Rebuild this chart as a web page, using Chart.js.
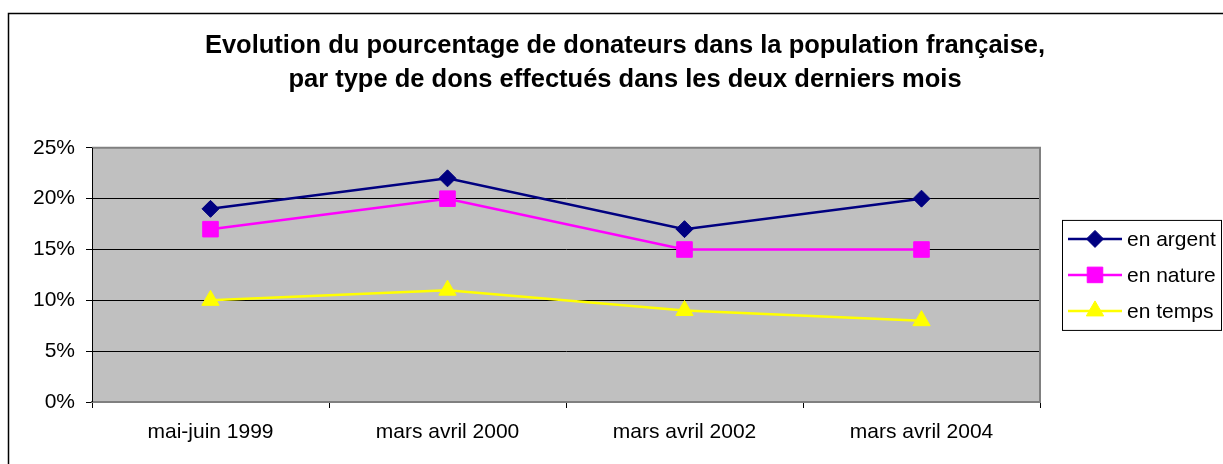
<!DOCTYPE html>
<html>
<head>
<meta charset="utf-8">
<script src="https://cdn.jsdelivr.net/npm/chart.js@4"></script>
<style>
  body { margin: 0; background: #fff; }
</style>
</head>
<body>
<canvas id="graph" width="1223" height="464"></canvas>
<script>
// === DATA === //

const periods = ["mai-juin 1999", "mars avril 2000", "mars avril 2002", "mars avril 2004"]
const enArgent = [19, 22, 17, 20]
const enNature = [17, 20, 15, 15]
const enTemps = [10, 11, 9, 8]
const titleLines = [
  "Evolution du pourcentage de donateurs dans la population française,",
  "par type de dons effectués dans les deux derniers mois"
]

const fontFamily = 'Arial, "Liberation Sans", sans-serif'

// === PLUGINS === //

// grey plot area + outer frame
const plotBackground = {
  id: 'plotBackground',
  beforeDraw(chart) {
    const { ctx, chartArea: a } = chart
    ctx.save()
    ctx.fillStyle = '#ffffff'
    ctx.fillRect(0, 0, chart.width, chart.height)
    ctx.strokeStyle = '#000000'
    ctx.lineWidth = 1.5
    ctx.strokeRect(8.5, 13.5, chart.width + 20, chart.height + 20)
    ctx.fillStyle = '#c0c0c0'
    ctx.fillRect(a.left, a.top, a.right - a.left, a.bottom - a.top)
    ctx.restore()
  },
  beforeDatasetsDraw(chart) {
    const { ctx, chartArea: a } = chart
    ctx.save()
    ctx.strokeStyle = '#808080'
    ctx.lineWidth = 2
    ctx.beginPath()
    ctx.moveTo(a.left, a.top)
    ctx.lineTo(a.right, a.top)
    ctx.lineTo(a.right, a.bottom)
    ctx.lineTo(a.left, a.bottom)
    ctx.stroke()
    ctx.strokeStyle = '#000000'
    ctx.lineWidth = 1
    ctx.beginPath()
    ctx.moveTo(a.left + 0.5, a.top)
    ctx.lineTo(a.left + 0.5, a.bottom)
    ctx.stroke()
    ctx.restore()
  }
}

// legend with line + marker, boxed, right of plot
const boxedLegend = {
  id: 'boxedLegend',
  afterDraw(chart) {
    const { ctx, chartArea: a } = chart
    const left = a.right + 22
    const right = chart.width - 2
    const mid = (a.top + a.bottom) / 2
    const rowH = 36
    const sets = chart.data.datasets
    const top = mid - rowH * sets.length / 2 - 1
    ctx.save()
    ctx.strokeStyle = '#000000'
    ctx.lineWidth = 1
    ctx.strokeRect(left + 0.5, top + 0.5, right - left, rowH * sets.length + 2)
    ctx.font = '21px ' + fontFamily
    ctx.textBaseline = 'middle'
    ctx.textAlign = 'left'
    sets.forEach((ds, i) => {
      const y = mid + (i - (sets.length - 1) / 2) * rowH
      ctx.strokeStyle = ds.borderColor
      ctx.lineWidth = 2.5
      ctx.beginPath()
      ctx.moveTo(left + 6, y)
      ctx.lineTo(left + 60, y)
      ctx.stroke()
      ctx.fillStyle = ds.borderColor
      ctx.lineWidth = 1
      Chart.helpers.drawPoint(ctx, {
        pointStyle: ds.pointStyle,
        radius: ds.pointRadius,
        borderWidth: 1
      }, left + 33, y)
      ctx.fillStyle = '#000000'
      ctx.fillText(ds.label, left + 65, y + 1)
    })
    ctx.restore()
  }
}

// === CHART === //

function makeDataset(label, values, color, style, radius) {
  return {
    label: label,
    data: values,
    borderColor: color,
    backgroundColor: color,
    pointBackgroundColor: color,
    pointBorderColor: color,
    borderWidth: 2.5,
    pointStyle: style,
    pointRadius: radius,
    pointHoverRadius: radius,
    pointBorderWidth: 1,
    tension: 0
  }
}

const config = {
  type: 'line',
  data: {
    labels: periods,
    datasets: [
      makeDataset("en argent", enArgent, '#000080', 'rectRot', 8.5),
      makeDataset("en nature", enNature, '#ff00ff', 'rect', 11),
      makeDataset("en temps", enTemps, '#ffff00', 'triangle', 10)
    ]
  },
  options: {
    responsive: false,
    animation: false,
    layout: { padding: { top: 13, left: 27, right: 0, bottom: 0 } },
    plugins: {
      legend: { display: false },
      tooltip: { enabled: false },
      title: {
        display: true,
        text: titleLines,
        color: '#000000',
        font: { family: fontFamily, size: 25.5, weight: 'bold', lineHeight: 1.33 },
        padding: { top: 16, bottom: 51 }
      }
    },
    scales: {
      x: {
        offset: true,
        afterFit(scale) { scale.height = 62 },
        grid: {
          offset: true,
          drawOnChartArea: false,
          color: '#000000',
          tickLength: 6
        },
        border: { color: '#606060', width: 2 },
        ticks: {
          color: '#000000',
          padding: 12,
          font: { family: fontFamily, size: 21 }
        }
      },
      y: {
        min: 0,
        max: 25,
        afterFit(scale) { scale.width = 65 },
        grid: { color: '#000000', tickLength: 6 },
        border: { color: '#000000', width: 1 },
        ticks: {
          stepSize: 5,
          color: '#000000',
          padding: 11,
          font: { family: fontFamily, size: 21 },
          callback: v => v + '%'
        }
      },
      legendSpace: {
        type: 'linear',
        position: 'right',
        min: 0,
        max: 1,
        afterFit(scale) { scale.width = 183 },
        grid: { display: false },
        border: { display: false },
        ticks: { display: false }
      }
    }
  },
  plugins: [plotBackground, boxedLegend]
}

new Chart(document.getElementById('graph'), config)
</script>
</body>
</html>
